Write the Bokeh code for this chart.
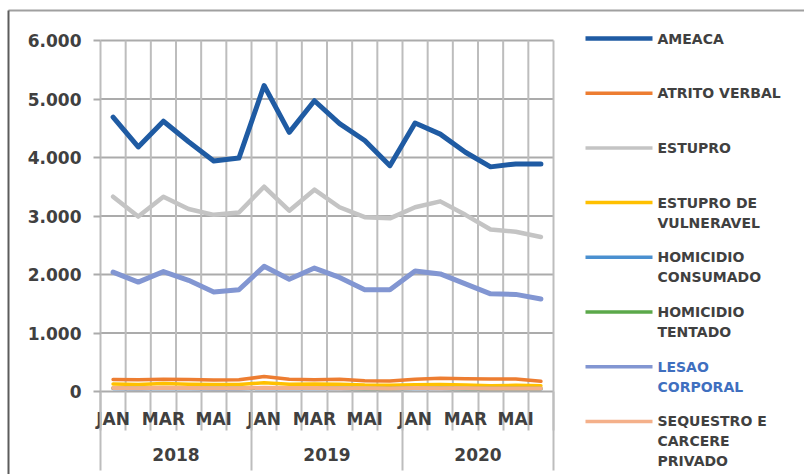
from bokeh.plotting import figure
from bokeh.models import Range1d, LinearAxis, FixedTicker
from bokeh.core.properties import value
from bokeh.embed import file_html
from bokeh.resources import INLINE

# ---- data -------------------------------------------------------------
years = ["2018", "2019", "2020"]
months = ["JAN", "FEV", "MAR", "ABR", "MAI", "JUN"]
shown_months = ["JAN", "MAR", "MAI"]

ameaca = [4690, 4180, 4620, 4270, 3940, 3990, 5230, 4430, 4970,
          4580, 4290, 3860, 4590, 4400, 4090, 3840, 3890, 3890]
atrito_verbal = [205, 200, 210, 205, 195, 200, 255, 210, 200,
                 210, 185, 180, 210, 225, 220, 215, 215, 175]
estupro = [3330, 2990, 3330, 3120, 3020, 3060, 3500, 3090, 3450,
           3150, 2980, 2960, 3150, 3250, 3020, 2770, 2730, 2640]
estupro_vulneravel = [130, 120, 135, 125, 120, 120, 150, 125, 130,
                      125, 110, 105, 115, 120, 110, 100, 105, 100]
homicidio_consumado = [52, 48, 54, 50, 49, 48, 56, 50, 52,
                       50, 47, 46, 51, 50, 48, 45, 47, 45]
homicidio_tentado = [58, 54, 60, 56, 54, 55, 63, 56, 58,
                     56, 53, 51, 56, 55, 53, 50, 51, 50]
lesao_corporal = [2040, 1870, 2050, 1900, 1700, 1740, 2140, 1920, 2110,
                  1950, 1740, 1740, 2060, 2010, 1840, 1670, 1660, 1580]
sequestro = [60, 55, 62, 58, 55, 56, 65, 58, 60,
             57, 54, 52, 58, 56, 54, 50, 52, 50]

series_names = ["AMEACA", "ATRITO VERBAL", "ESTUPRO", "ESTUPRO DE VULNERAVEL",
                "HOMICIDIO CONSUMADO", "HOMICIDIO TENTADO", "LESAO CORPORAL",
                "SEQUESTRO E CARCERE PRIVADO"]
legend_lines = [["AMEACA"], ["ATRITO VERBAL"], ["ESTUPRO"],
                ["ESTUPRO DE", "VULNERAVEL"], ["HOMICIDIO", "CONSUMADO"],
                ["HOMICIDIO", "TENTADO"], ["LESAO", "CORPORAL"],
                ["SEQUESTRO E", "CARCERE", "PRIVADO"]]
series_values = [ameaca, atrito_verbal, estupro, estupro_vulneravel,
                 homicidio_consumado, homicidio_tentado, lesao_corporal, sequestro]

y_ticks = [0, 1000, 2000, 3000, 4000, 5000, 6000]
y_tick_labels = ["0", "1.000", "2.000", "3.000", "4.000", "5.000", "6.000"]

# ---- styles -----------------------------------------------------------
colors = ["#1F5BA3", "#ED7D31", "#C4C4C4", "#FFC000",
          "#4A90D0", "#5BA84A", "#8296D2", "#F4B08A"]
widths = [5, 3.5, 4.5, 3.5, 3.5, 3.5, 5, 4]
legend_widths = [4.5, 3.5, 3.5, 3.5, 3.5, 3.5, 3.5, 3.5]
legend_text_colors = ["#404040"] * 6 + ["#3F6FBF", "#404040"]
TEXT = "#404040"
GRID_H = "#ababab"
GRID_V = "#bdbdbd"
FONT = "DejaVu Sans"

# ---- canvas geometry (pixels) -----------------------------------------
W, H = 804, 474
LEFT, RIGHT = 100, 553      # plot area, horizontal
TOP, ZERO = 40, 391         # top gridline and zero line
n_cat = len(years) * len(months)
px_cat = (RIGHT - LEFT) / n_cat
px_val = (ZERO - TOP) / y_ticks[-1]


def sx(px):
    return (px - LEFT) / px_cat


def sy(py):
    return (ZERO - py) / px_val


p = figure(width=W, height=H, output_backend="svg", toolbar_location=None,
           x_range=Range1d(sx(0), sx(W)), y_range=Range1d(sy(H), sy(0)),
           x_axis_location=None, y_axis_location=None, min_border=0,
           outline_line_color=None, background_fill_color="white",
           border_fill_color="white")
p.xgrid.grid_line_color = None
p.ygrid.grid_line_color = None

# chart box edges
p.segment(x0=[sx(8), sx(8)], y0=[sy(10), sy(10)], x1=[sx(W), sx(8)], y1=[sy(10), sy(H)],
          line_color=["#a0a0a0", "#5c5c5c"], line_width=2)

# gridlines
boundaries = list(range(n_cat + 1))
p.segment(x0=[0] * len(y_ticks), x1=[n_cat] * len(y_ticks), y0=y_ticks, y1=y_ticks,
          line_color=GRID_H, line_width=2)
p.segment(x0=boundaries, x1=boundaries, y0=[0] * len(boundaries),
          y1=[y_ticks[-1]] * len(boundaries), line_color=GRID_V, line_width=2)

# series
xs = [i + 0.5 for i in range(n_cat)]
for vals, c, w in zip(series_values, colors, widths):
    p.line(xs, vals, line_color=c, line_width=w, line_join="round", line_cap="round")

# y axis
yaxis = LinearAxis(
    fixed_location=0,
    ticker=FixedTicker(ticks=y_ticks, minor_ticks=[]),
    major_label_overrides={t: s for t, s in zip(y_ticks, y_tick_labels)},
    axis_line_color=None, major_tick_in=0, major_tick_out=7,
    major_tick_line_color=GRID_H, major_tick_line_width=2,
    minor_tick_line_color=None, major_label_standoff=12,
    major_label_text_font=FONT, major_label_text_font_size="17px",
    major_label_text_font_style="bold", major_label_text_color=TEXT)
p.add_layout(yaxis, "left")

# month level of the category axis (minor ticks mark the month boundaries)
month_pos = [y * len(months) + months.index(m) + 0.5
             for y in range(len(years)) for m in shown_months]
month_lab = [m for _ in years for m in shown_months]
xaxis = LinearAxis(
    fixed_location=0,
    ticker=FixedTicker(ticks=month_pos, minor_ticks=boundaries),
    major_label_overrides={t: s for t, s in zip(month_pos, month_lab)},
    axis_line_color=None, major_tick_in=0, major_tick_out=0,
    major_tick_line_color=None, minor_tick_in=0, minor_tick_out=39,
    minor_tick_line_color=GRID_V, minor_tick_line_width=2,
    major_label_standoff=-22,
    major_label_text_font=FONT, major_label_text_font_size="17px",
    major_label_text_font_style="bold", major_label_text_color=TEXT)
p.add_layout(xaxis, "below")

# year level of the category axis (minor ticks mark the year boundaries)
year_pos = [i * len(months) + len(months) / 2 for i in range(len(years))]
year_bounds = [i * len(months) for i in range(len(years) + 1)]
yearaxis = LinearAxis(
    fixed_location=0,
    ticker=FixedTicker(ticks=year_pos, minor_ticks=year_bounds),
    major_label_overrides={t: s for t, s in zip(year_pos, years)},
    axis_line_color=None, major_tick_in=0, major_tick_out=0,
    major_tick_line_color=None, minor_tick_in=0, minor_tick_out=79,
    minor_tick_line_color=GRID_V, minor_tick_line_width=2,
    major_label_standoff=-23,
    major_label_text_font=FONT, major_label_text_font_size="17px",
    major_label_text_font_style="bold", major_label_text_color=TEXT)
p.add_layout(yearaxis, "below")

# legend
LEG_X0, LEG_X1, LEG_TX = 585, 652, 657
LEG_Y0, LEG_STEP, LEG_LINE = 38, 54.7, 20
for i, (lines, c, lw, tc) in enumerate(zip(legend_lines, colors, legend_widths,
                                           legend_text_colors)):
    row = LEG_Y0 + i * LEG_STEP
    p.segment(x0=[sx(LEG_X0)], x1=[sx(LEG_X1)], y0=[sy(row)], y1=[sy(row)],
              line_color=c, line_width=lw)
    p.text(x=[sx(LEG_TX)] * len(lines), y=[sy(row + j * LEG_LINE) for j in range(len(lines))],
           text=lines, text_font=value(FONT), text_font_size="14px",
           text_font_style="bold", text_color=tc, text_baseline="middle",
           text_align="left")

open("out.html", "w").write(file_html(p, INLINE))
